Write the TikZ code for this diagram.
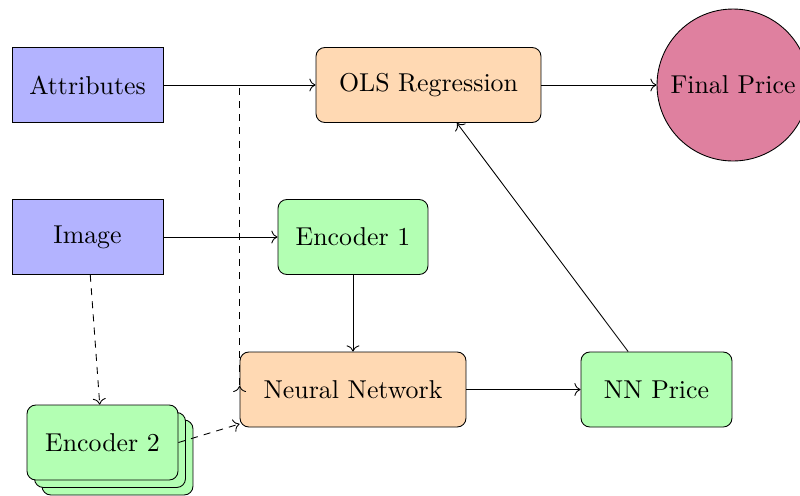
\documentclass[tikz,border=0pt]{standalone}
\usepackage{fontspec}
\newfontfamily\tenfont{lmroman10-regular.otf}
\usetikzlibrary{shadows,arrows.meta}
\definecolor{inblue}{RGB}{179,179,255}
\definecolor{procorange}{RGB}{255,217,179}
\definecolor{encgreen}{RGB}{179,255,179}
\definecolor{outpink}{RGB}{223,128,159}
\tikzset{
  every picture/.style={line width=0.5pt},
  >={To[scale=1.3]},
  nodefont/.style={font=\tenfont\fontsize{14.7}{17}\selectfont},
  base/.style={draw, nodefont, minimum height=1.5cm, inner sep=2pt},
  inputbox/.style={base, fill=inblue, minimum width=3.02cm},
  procbox/.style={base, fill=procorange, rounded corners=5pt},
  encbox/.style={base, fill=encgreen, rounded corners=5pt, minimum width=3.02cm},
  outcircle/.style={draw, circle, fill=outpink, nodefont, minimum size=3.04cm, inner sep=0pt},
  flow/.style={->},
  dashline/.style={dash pattern=on 4pt off 3.5pt},
  aux/.style={->, dashline},
}
\begin{document}
\begin{tikzpicture}[x=0.02cm, y=-0.02cm]
  \useasboundingbox (0,0) rectangle (800,495);

  % inputs
  \node[inputbox] (attr) at (87.5,85) {Attributes};
  \node[inputbox] (img)  at (87.5,237) {Image};

  % processing stages
  \node[procbox, minimum width=4.5cm] (ols) at (428.5,85) {OLS Regression};
  \node[encbox, minimum width=3cm] (enc1) at (353,237) {Encoder 1};
  \node[procbox, minimum width=4.52cm] (nn) at (353,389.5) {Neural Network};
  \node[encbox] (nnp) at (656.5,389.5) {NN Price};
  \node[encbox, double copy shadow={shadow xshift=0.15cm, shadow yshift=-0.15cm}] (enc2) at (102.5,442.5) {Encoder 2};

  % output
  \node[outcircle] (final) at (733,85) {Final Price};

  % main flow
  \draw[flow] (attr.east) -- (ols.west);
  \draw[flow] (ols.east) -- (final.west);
  \draw[flow] (img.east) -- (enc1.west);
  \draw[flow] (enc1.south) -- (nn.north);
  \draw[flow] (nn.east) -- (nnp.west);
  \draw[flow] (nnp) -- (ols);

  % optional paths
  \coordinate (attrdrop) at ([yshift=-0.05cm]nn.west);
  \draw[dashline, -{To[reversed, scale=1.3]}] (attr.east) -| (attrdrop);
  \draw[aux] (img) -- (enc2);
  \draw[aux] (enc2.east) -- (nn);
\end{tikzpicture}
\end{document}
